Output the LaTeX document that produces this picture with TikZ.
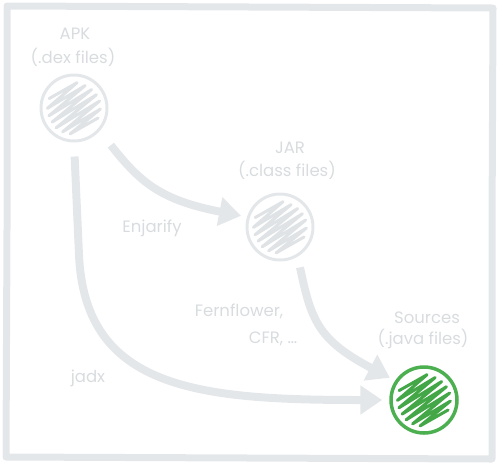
\documentclass[tikz,border=0pt]{standalone}
\usepackage{fontspec}
\setmainfont{Poppins}
\usetikzlibrary{arrows.meta}
\definecolor{lgray}{HTML}{E4E7EA}
\definecolor{tgray}{HTML}{D8DCDF}
\definecolor{hgray}{HTML}{E0E3E6}
\definecolor{ggreen}{HTML}{4CAF50}
\definecolor{dgreen}{HTML}{43A647}
\tikzset{
  frameline/.style={draw=lgray, line width=7pt, line join=round, line cap=round},
  blob/.style={circle, minimum size=66pt, inner sep=0pt, draw=lgray, line width=3pt},
  greenblob/.style={blob, draw=ggreen, line width=3.5pt},
  lbl/.style={text=tgray, font=\fontsize{16.5}{18}\selectfont, inner sep=0pt, align=center},
  flow/.style={draw=lgray, line width=8pt, -{Triangle[length=22pt,width=28pt]}},
}
\newcommand{\scribble}[2]{%
  \begin{scope}[shift={(#1)}, yscale=-1, rotate=-35]
    \draw[#2, line width=3pt, line join=round, line cap=round]
      (-15,22) -- (17,19) -- (-22,15) -- (22,12) -- (-25,8) -- (25,5) -- (-26,1) -- (26,-2)
      -- (-26,-6) -- (25,-9) -- (-23,-13) -- (21,-16) -- (-18,-19) -- (14,-22);
  \end{scope}}
\begin{document}
\begin{tikzpicture}[x=1pt, y=-1pt]
\useasboundingbox (0,0) rectangle (500,467);
% frame
\draw[frameline] (7,6) -- (250,7) -- (493,8) -- (492,230) -- (492,459) -- (250,458) -- (6,457) -- (7,230) -- cycle;
% nodes
\node[blob] (apk) at (74,108) {};
\node[blob] (jar) at (280,227) {};
\node[greenblob] (src) at (424,400) {};
\scribble{74,108}{hgray}
\scribble{280,227}{hgray}
\scribble{424,400}{dgreen}
% labels
\node[lbl] (apkt1) at (75,34) {APK};
\node[lbl] (apkt2) at (73,57) {(.dex files)};
\node[lbl] (jart1) at (290,148) {JAR};
\node[lbl] (jart2) at (287,170) {(.class files)};
\node[lbl] (srct1) at (427,318) {Sources};
\node[lbl] (srct2) at (423,339) {(.java files)};
\node[lbl] (enj) at (152,228) {Enjarify};
\node[lbl] (ffl) at (239,311) {Fernflower,};
\node[lbl] (cfr) at (273,339) {CFR, \dots};
\node[lbl] (jadx) at (88,378) {jadx};
% connectors
\draw[flow, shorten <=18pt, shorten >=6pt] (apk.-42) .. controls (140,182) and (160,200) .. (jar.163);
\draw[flow, shorten <=11pt, shorten >=6pt] (jar.-59) .. controls (311,320) and (318,340) .. (src.146);
\draw[flow, shorten <=14pt, shorten >=7pt] (apk.south) -- (79,255) .. controls (85,390) and (200,400) .. (src.west);
\end{tikzpicture}
\end{document}
